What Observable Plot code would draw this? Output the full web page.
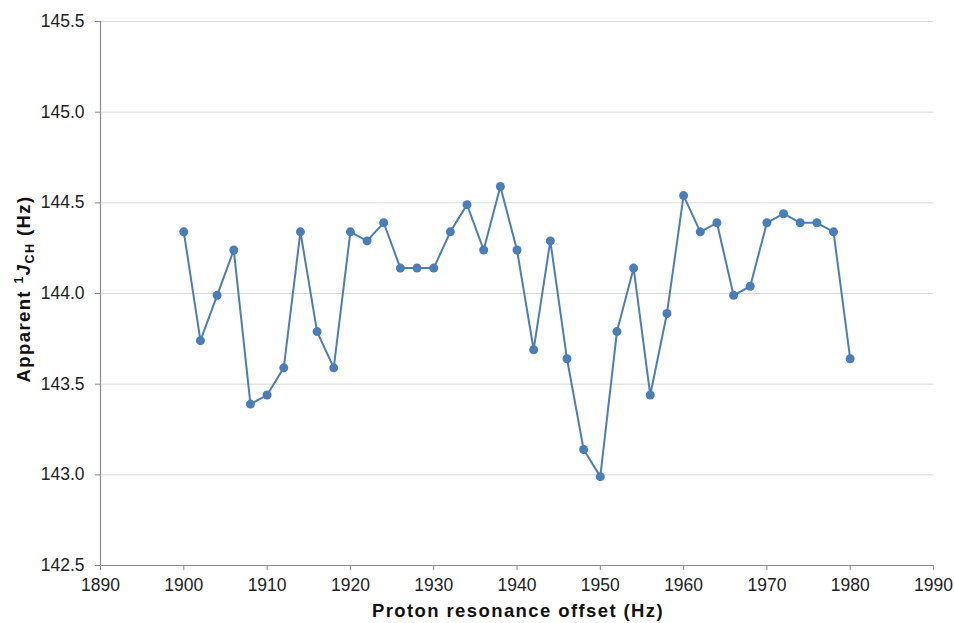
<!DOCTYPE html>
<html>
<head>
<meta charset="utf-8">
<script src="https://cdn.jsdelivr.net/npm/d3@7"></script>
<script src="https://cdn.jsdelivr.net/npm/@observablehq/plot@0.6"></script>
<style>
  html, body { margin: 0; padding: 0; background: #fff; }
  #chart svg { display: block; }
</style>
</head>
<body>
<div id="chart"></div>
<script>
const offsets = [1900,1902,1904,1906,1908,1910,1912,1914,1916,1918,1920,1922,1924,1926,1928,1930,1932,1934,1936,1938,1940,1942,1944,1946,1948,1950,1952,1954,1956,1958,1960,1962,1964,1966,1968,1970,1972,1974,1976,1978,1980];
const couplings = [144.34,143.74,143.99,144.24,143.39,143.44,143.59,144.34,143.79,143.59,144.34,144.29,144.39,144.14,144.14,144.14,144.34,144.49,144.24,144.59,144.24,143.69,144.29,143.64,143.14,142.99,143.79,144.14,143.44,143.89,144.54,144.34,144.39,143.99,144.04,144.39,144.44,144.39,144.39,144.34,143.64];
const xTicks = [1890,1900,1910,1920,1930,1940,1950,1960,1970,1980,1990];
const yTicks = [142.5,143.0,143.5,144.0,144.5,145.0,145.5];
const xLabel = "Proton resonance offset (Hz)";

const data = offsets.map((x, i) => ({x, y: couplings[i]}));
const blue = "#4a7ebb";
const axisGray = "#8c8c8c";

const chart = Plot.plot({
  width: 954,
  height: 623,
  marginLeft: 100,
  marginRight: 21,
  marginTop: 21,
  marginBottom: 58,
  style: {fontFamily: "'Liberation Sans', Arial, sans-serif", fontSize: "17.5px", color: "#222", background: "#fff"},
  x: {domain: [1890, 1990]},
  y: {domain: [142.5, 145.5]},
  marks: [
    Plot.gridY(yTicks.filter(d => d > 142.5), {stroke: "#d9d9d9", strokeOpacity: 1, strokeWidth: 1}),
    Plot.axisY({ticks: yTicks, tickFormat: d3.format(".1f"), tickSize: 5, tickPadding: 11, stroke: axisGray, fill: "#222", label: null}),
    Plot.axisX({ticks: xTicks, tickFormat: d => String(d), tickSize: 5, tickPadding: 8, stroke: axisGray, fill: "#222", label: null}),
    Plot.ruleX([1890], {stroke: axisGray, strokeWidth: 1.2}),
    Plot.ruleY([142.5], {stroke: axisGray, strokeWidth: 1.2}),
    Plot.line(data, {x: "x", y: "y", stroke: blue, strokeWidth: 2}),
    Plot.dot(data, {x: "x", y: "y", r: 4.5, fill: blue, stroke: "none"}),
    Plot.text([xLabel], {frameAnchor: "bottom", dy: 46, text: d => d, fontWeight: "bold", fontSize: 18.5, fill: "#111", lineAnchor: "middle", dx: 1})
  ]
});

document.getElementById("chart").appendChild(chart);
d3.select(chart).selectAll("text").filter(function() { return this.textContent === xLabel; })
  .style("letter-spacing", "1.4px");
d3.select(chart).selectAll("g[aria-label='text'] text").style("letter-spacing", "1.4px");

// Y axis label with italic J, superscript 1 and subscript CH
const svg = d3.select(chart);
const yl = svg.append("text")
  .attr("transform", "translate(30,289) rotate(-90)")
  .attr("text-anchor", "middle")
  .attr("font-family", "'Liberation Sans', Arial, sans-serif")
  .attr("font-size", 18.5)
  .attr("font-weight", "bold")
  .attr("fill", "#111")
  .style("letter-spacing", "1.4px");
yl.append("tspan").text("Apparent ");
yl.append("tspan").attr("font-size", 12.5).attr("dy", -7).text("1");
yl.append("tspan").attr("font-style", "italic").attr("dy", 7).text("J");
yl.append("tspan").attr("font-size", 12.5).attr("dy", 4).text("CH");
yl.append("tspan").attr("dy", -4).text(" (Hz)");
</script>
</body>
</html>
